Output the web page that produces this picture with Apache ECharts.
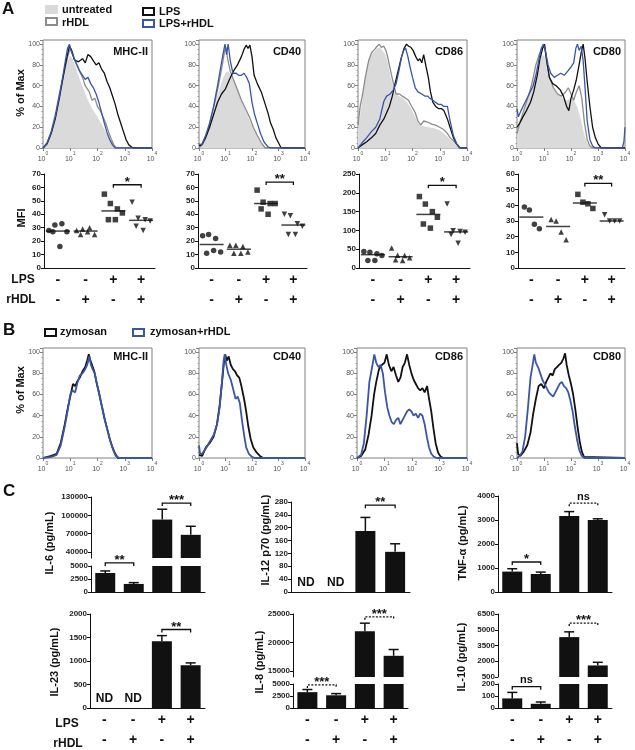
<!DOCTYPE html>
<html><head><meta charset="utf-8">
<script src="https://cdn.jsdelivr.net/npm/echarts@6/dist/echarts.min.js"></script>
<style>html,body{margin:0;padding:0;background:#fff}#c{width:635px;height:750px}</style>
</head><body><div id="c"></div>
<script>
const FONT = '"Liberation Sans", Arial, Helvetica, sans-serif';
const BLUE = '#3a55a5', GRAY = '#8c8c8c', FILL = '#dadada', BLACK = '#111';

// ---------- Panel A histograms: [log10(fluorescence), % of Max] ----------
const aMHC_untr = [[0,0],[0.15,4],[0.3,14],[0.45,30],[0.6,48],[0.7,62],[0.8,75],[0.9,84],[1.0,89],[1.08,86],[1.2,78],[1.35,66],[1.5,56],[1.65,46],[1.8,38],[1.95,32],[2.1,25],[2.25,18],[2.4,11],[2.55,5],[2.65,1],[2.75,0],[4,0]];
const aMHC_rhdl = [[0,0],[0.15,5],[0.3,16],[0.45,32],[0.6,52],[0.75,70],[0.85,82],[0.95,92],[1.02,96],[1.1,90],[1.2,82],[1.3,76],[1.45,68],[1.55,60],[1.7,54],[1.8,46],[1.9,48],[2.0,40],[2.1,36],[2.2,30],[2.3,24],[2.4,16],[2.5,9],[2.6,3],[2.7,0],[4,0]];
const aMHC_lps = [[0,0],[0.15,4],[0.3,14],[0.45,28],[0.6,48],[0.75,70],[0.88,88],[0.97,98],[1.05,94],[1.15,85],[1.3,83],[1.45,86],[1.55,82],[1.65,90],[1.75,88],[1.85,84],[1.95,80],[2.05,82],[2.15,76],[2.25,72],[2.35,64],[2.45,58],[2.55,50],[2.65,42],[2.75,32],[2.85,24],[2.95,16],[3.05,8],[3.15,3],[3.3,0],[4,0]];
const aMHC_lpsr = [[0,0],[0.15,5],[0.3,15],[0.45,30],[0.6,50],[0.72,68],[0.82,84],[0.9,96],[0.97,100],[1.05,92],[1.15,86],[1.25,80],[1.35,74],[1.45,70],[1.55,66],[1.65,68],[1.75,62],[1.85,58],[1.95,52],[2.05,44],[2.15,34],[2.25,24],[2.35,15],[2.45,8],[2.55,3],[2.65,0],[4,0]];

const aCD40_untr = [[0,0],[0.15,3],[0.3,12],[0.45,26],[0.6,40],[0.75,55],[0.9,67],[1.0,72],[1.1,74],[1.2,70],[1.35,62],[1.5,52],[1.65,42],[1.8,33],[1.95,24],[2.1,16],[2.25,9],[2.4,3],[2.5,0],[4,0]];
const aCD40_rhdl = [[0,0],[0.15,4],[0.3,13],[0.45,28],[0.6,44],[0.75,62],[0.88,80],[0.97,94],[1.02,97],[1.08,86],[1.18,74],[1.3,66],[1.45,56],[1.6,46],[1.75,38],[1.9,30],[2.05,20],[2.2,12],[2.35,5],[2.5,0],[4,0]];
const aCD40_lps = [[0,2],[0.1,3],[0.25,10],[0.4,20],[0.55,32],[0.7,44],[0.85,52],[1.0,57],[1.15,66],[1.3,74],[1.45,80],[1.6,88],[1.7,95],[1.78,99],[1.85,96],[1.92,99],[2.0,88],[2.08,70],[2.2,62],[2.35,54],[2.5,42],[2.6,34],[2.7,24],[2.8,18],[2.9,10],[3.0,5],[3.1,0],[4,0]];
const aCD40_lpsr = [[0,4],[0.1,3],[0.25,12],[0.4,24],[0.55,40],[0.7,60],[0.82,78],[0.92,92],[0.98,100],[1.04,90],[1.1,100],[1.18,84],[1.28,72],[1.4,72],[1.5,70],[1.6,70],[1.7,72],[1.8,68],[1.9,62],[2.0,44],[2.1,32],[2.2,24],[2.32,14],[2.45,6],[2.6,1],[2.7,0],[4,0]];

const aCD86_untr = [[0,18],[0.1,35],[0.2,55],[0.3,72],[0.4,84],[0.5,90],[0.6,93],[0.7,96],[0.8,97],[0.9,94],[1.0,90],[1.1,82],[1.2,68],[1.3,58],[1.4,52],[1.5,50],[1.65,48],[1.8,44],[1.95,38],[2.1,30],[2.25,22],[2.4,21],[2.6,20],[2.8,19],[3.0,17],[3.2,13],[3.4,8],[3.6,3],[3.75,0],[4,0]];
const aCD86_rhdl = [[0,22],[0.08,40],[0.17,52],[0.28,70],[0.39,84],[0.5,92],[0.61,95],[0.7,98],[0.78,100],[0.85,97],[0.95,98],[1.04,93],[1.12,84],[1.2,74],[1.3,62],[1.4,52],[1.52,52],[1.62,50],[1.75,48],[1.85,46],[1.97,40],[2.1,34],[2.2,26],[2.3,22],[2.41,26],[2.55,25],[2.7,23],[2.85,22],[3.0,20],[3.13,18],[3.25,15],[3.38,10],[3.5,7],[3.6,4],[3.72,0],[4,0]];
const aCD86_lps = [[0,0],[0.15,3],[0.32,6],[0.5,10],[0.65,14],[0.8,22],[0.95,28],[1.05,34],[1.15,40],[1.26,50],[1.36,62],[1.47,74],[1.58,86],[1.69,96],[1.78,100],[1.86,98],[1.94,97],[2.02,94],[2.12,88],[2.2,84],[2.27,86],[2.34,82],[2.41,90],[2.5,78],[2.58,68],[2.66,54],[2.75,44],[2.85,40],[2.95,38],[3.06,38],[3.15,36],[3.28,28],[3.4,18],[3.5,10],[3.62,4],[3.75,0],[4,0]];
const aCD86_lpsr = [[0,0],[0.15,5],[0.32,10],[0.5,16],[0.65,20],[0.8,28],[0.95,45],[1.05,50],[1.18,52],[1.3,56],[1.4,62],[1.5,74],[1.6,88],[1.68,94],[1.75,96],[1.83,88],[1.91,78],[2.0,68],[2.1,58],[2.2,54],[2.34,52],[2.45,50],[2.55,50],[2.63,48],[2.75,46],[2.84,44],[2.95,42],[3.06,42],[3.15,40],[3.28,40],[3.38,26],[3.5,12],[3.62,4],[3.75,0],[4,0]];

const aCD80_untr = [[0,12],[0.1,22],[0.25,34],[0.4,46],[0.55,60],[0.7,76],[0.82,86],[0.92,90],[1.02,88],[1.12,74],[1.25,62],[1.4,56],[1.55,52],[1.7,48],[1.85,46],[2.0,48],[2.12,46],[2.25,38],[2.38,26],[2.5,12],[2.62,4],[2.75,0],[4,0]];
const aCD80_rhdl = [[0,14],[0.1,24],[0.25,36],[0.4,48],[0.55,62],[0.7,80],[0.82,90],[0.92,96],[1.02,98],[1.1,82],[1.2,68],[1.35,58],[1.5,52],[1.65,50],[1.8,54],[1.9,58],[2.0,52],[2.1,46],[2.2,54],[2.3,60],[2.4,48],[2.5,24],[2.6,8],[2.7,2],[2.8,0],[4,0]];
const aCD80_lps = [[0,20],[0.1,24],[0.22,30],[0.35,36],[0.5,44],[0.62,54],[0.75,70],[0.85,86],[0.95,96],[1.02,100],[1.1,84],[1.2,68],[1.32,62],[1.45,60],[1.6,56],[1.72,50],[1.84,40],[1.92,36],[2.0,48],[2.1,56],[2.2,66],[2.3,80],[2.38,92],[2.45,100],[2.52,86],[2.6,64],[2.7,40],[2.8,20],[2.9,10],[3.0,4],[3.12,0],[4,0]];
const aCD80_lpsr = [[0,38],[0.05,30],[0.15,36],[0.3,44],[0.45,52],[0.6,60],[0.72,72],[0.82,86],[0.9,96],[0.98,100],[1.05,94],[1.15,80],[1.25,72],[1.38,68],[1.5,70],[1.62,72],[1.75,70],[1.88,74],[2.0,78],[2.1,82],[2.18,96],[2.24,100],[2.3,94],[2.38,98],[2.45,84],[2.52,58],[2.6,26],[2.7,8],[2.8,2],[2.9,0],[3.9,0],[3.96,6],[4,20]];

// ---------- Panel B histograms ----------
const bMHC_zym = [[0,0],[0.3,2],[0.5,4],[0.65,14],[0.8,32],[0.9,46],[1.0,58],[1.1,70],[1.18,68],[1.25,72],[1.35,76],[1.45,82],[1.55,86],[1.62,92],[1.68,98],[1.74,92],[1.8,88],[1.88,82],[1.96,72],[2.05,62],[2.15,50],[2.25,38],[2.35,28],[2.45,18],[2.55,10],[2.65,4],[2.75,0],[4,0]];
const bMHC_zymr = [[0,0],[0.3,1],[0.5,3],[0.65,12],[0.8,30],[0.9,44],[1.0,60],[1.08,64],[1.18,62],[1.25,70],[1.35,78],[1.45,80],[1.55,84],[1.62,88],[1.7,96],[1.76,88],[1.82,84],[1.9,80],[1.98,70],[2.07,60],[2.17,48],[2.27,36],[2.37,26],[2.47,16],[2.57,8],[2.67,2],[2.8,0],[4,0]];
const bCD40_zym = [[0,3],[0.12,2],[0.26,10],[0.4,14],[0.55,20],[0.68,32],[0.78,50],[0.87,72],[0.94,90],[0.99,98],[1.05,92],[1.12,96],[1.2,88],[1.28,84],[1.36,82],[1.44,78],[1.52,76],[1.6,68],[1.7,56],[1.78,44],[1.86,30],[1.95,18],[2.05,10],[2.18,5],[2.3,2],[2.42,0],[4,0]];
const bCD40_zymr = [[0,12],[0.04,4],[0.12,4],[0.28,10],[0.42,16],[0.56,22],[0.68,32],[0.78,48],[0.86,70],[0.93,92],[0.97,98],[1.03,88],[1.1,80],[1.2,74],[1.3,64],[1.38,56],[1.46,58],[1.54,52],[1.62,36],[1.7,22],[1.78,10],[1.88,4],[2.0,1],[2.1,0],[4,0]];
const bCD86_zym = [[0,0],[0.15,2],[0.3,8],[0.42,22],[0.53,40],[0.62,60],[0.7,72],[0.8,84],[0.9,88],[1.0,90],[1.08,98],[1.16,88],[1.25,82],[1.33,86],[1.42,78],[1.5,72],[1.58,76],[1.66,86],[1.74,90],[1.82,98],[1.9,88],[1.98,80],[2.06,74],[2.14,70],[2.22,66],[2.3,64],[2.38,66],[2.46,62],[2.55,68],[2.62,56],[2.7,44],[2.78,28],[2.86,14],[2.95,5],[3.05,1],[3.15,0],[4,0]];
const bCD86_zymr = [[0,0],[0.15,3],[0.25,14],[0.35,40],[0.45,72],[0.55,86],[0.63,98],[0.7,90],[0.78,86],[0.86,88],[0.94,80],[1.02,62],[1.1,48],[1.18,40],[1.26,34],[1.34,32],[1.42,36],[1.5,38],[1.58,32],[1.66,36],[1.74,40],[1.82,44],[1.9,46],[1.98,44],[2.06,40],[2.14,42],[2.22,38],[2.3,42],[2.38,40],[2.46,32],[2.54,20],[2.62,10],[2.7,4],[2.8,1],[2.9,0],[4,0]];
const bCD80_zym = [[0,14],[0.04,4],[0.12,2],[0.25,6],[0.38,12],[0.5,24],[0.6,42],[0.7,56],[0.8,68],[0.9,70],[1.0,66],[1.08,72],[1.16,76],[1.24,80],[1.32,78],[1.4,84],[1.48,86],[1.56,88],[1.64,90],[1.72,94],[1.78,99],[1.84,88],[1.92,78],[2.0,70],[2.08,60],[2.16,46],[2.24,30],[2.32,16],[2.4,6],[2.48,1],[2.55,0],[4,0]];
const bCD80_zymr = [[0,0],[0.1,2],[0.2,6],[0.3,20],[0.4,46],[0.5,76],[0.58,88],[0.64,98],[0.7,90],[0.78,86],[0.86,80],[0.94,74],[1.02,70],[1.1,66],[1.18,62],[1.26,60],[1.34,58],[1.42,62],[1.5,66],[1.58,70],[1.66,72],[1.74,68],[1.82,66],[1.9,62],[1.98,54],[2.06,44],[2.14,30],[2.22,18],[2.3,8],[2.4,2],[2.5,0],[4,0]];

// ---------- Panel A MFI dot plots (groups: -/-, -/+, +/-, +/+) ----------
const mfiMHC = [[28,32,33,27,27,16],[28,29,30,25,25,27],[55,48,44,41,36,36],[49,37,36,35,31,28]];
const mfiCD40 = [[24,25,22,12,11,13],[17,17,16,12,11,11],[58,49,48,48,44,40],[40,39,33,31,25,25]];
const mfiCD86 = [[44,42,38,33,20,20],[53,34,33,27,22,20],[190,170,150,135,117,106],[170,99,97,95,89,66]];
const mfiCD80 = [[39,37,28,25],[31,30,23,18],[47,42,41,38],[34,30,30,30]];

// ---------- Panel C cytokines (mean, upper SEM; ND = not detected) ----------
const il6Mean = [3650,1550,93000,68000], il6Err = [400,250,17000,14000];
const il12Mean = [0,0,190,125], il12Err = [0,0,42,25], il12ND = [true,true,false,false];
const tnfMean = [850,750,3170,3000], tnfErr = [120,80,180,50];
const il23Mean = [0,0,1420,910], il23Err = [0,0,120,50], il23ND = [true,true,false,false];
const il8Mean = [3300,2650,22000,17700], il8Err = [550,350,1400,1100];
const il10Mean = [80,35,4300,1600], il10Err = [50,15,500,300];
const noND = [false,false,false,false];

const LPS = ['-','-','+','+'];
const RHDL = ['-','+','-','+'];
const CATS = ['g1','g2','g3','g4'];

// ---------- builders ----------
const grids = [], xAxis = [], yAxis = [], series = [], graphic = [];

function text(x, y, str, o) {
  o = o || {};
  graphic.push({type:'text', x:x, y:y, rotation:o.rot || 0, z:20,
    style:{text:str, fill:o.color || BLACK, font:(o.weight || 'bold') + ' ' + (o.size || 11) + 'px ' + FONT,
      align:o.align || 'left', verticalAlign:o.va || 'middle'}});
}
function box(x, y, w, h, fill, stroke) {
  graphic.push({type:'rect', x:x, y:y, z:20, shape:{x:0, y:0, width:w, height:h},
    style:{fill:fill || 'none', stroke:stroke || 'none', lineWidth:2}});
}

function histogram(left, top, width, height, title, curves, titleDy) {
  const gi = grids.length;
  grids.push({left:left, top:top, width:width, height:height, show:true, borderColor:'#808080', borderWidth:1});
  xAxis.push({gridIndex:gi, type:'value', min:0, max:4, interval:1,
    axisLine:{show:false}, splitLine:{show:false},
    axisTick:{show:true, length:3, lineStyle:{color:'#808080'}},
    axisLabel:{margin:3, formatter:function(v){return '{b|10}{s|' + v + '}';},
      rich:{b:{fontSize:7, color:'#555', lineHeight:12, verticalAlign:'bottom', fontFamily:FONT},
            s:{fontSize:5, color:'#555', lineHeight:12, verticalAlign:'top', fontFamily:FONT}}}});
  yAxis.push({gridIndex:gi, type:'value', min:0, max:104, interval:20,
    axisLine:{show:false}, splitLine:{show:false},
    axisTick:{show:true, length:3, lineStyle:{color:'#808080'}},
    minorTick:{show:true, splitNumber:4, length:1.5, lineStyle:{color:'#999'}},
    axisLabel:{fontSize:7, color:'#555', margin:3, formatter:function(v){return v % 20 === 0 ? String(v) : '';}}});
  curves.forEach(function(c, k){
    const s = {type:'line', xAxisIndex:gi, yAxisIndex:gi, data:c.data, showSymbol:false, symbol:'none',
      z:2 + k, lineStyle:{color:c.color, width:c.width || 1.3}};
    if (c.fill) { s.areaStyle = {color:c.fill, opacity:1}; s.lineStyle = {width:0, color:c.fill}; }
    series.push(s);
  });
  text(left + width - 4, top + (titleDy || 12), title, {align:'right', size:11});
}

function median(arr) {
  const s = arr.slice().sort(function(a,b){return a-b;});
  const n = s.length;
  return n % 2 ? s[(n-1)/2] : (s[n/2-1] + s[n/2]) / 2;
}

const pmLabel = {show:true, margin:2, interval:0, fontSize:14, fontWeight:'bold', color:BLACK, lineHeight:20,
  formatter:function(v, i){return LPS[i] + '\n' + RHDL[i];}};

function bracketSeries(gi, list) {
  return {type:'custom', xAxisIndex:gi, yAxisIndex:gi, clip:false, z:8,
    encode:{x:0, y:1},
    data:list.map(function(b){return [b.a, b.y, b.b];}),
    renderItem:function(params, api){
      const b = list[params.dataIndex];
      const p1 = api.coord([b.a, b.y]), p2 = api.coord([b.b, b.y]);
      const leg = 3;
      const star = b.t.indexOf('*') >= 0;
      return {type:'group', children:[
        {type:'polyline', shape:{points:[[p1[0], p1[1] + leg], [p1[0], p1[1]], [p2[0], p2[1]], [p2[0], p2[1] + leg]]},
          style:{stroke:BLACK, lineWidth:1.3, fill:null, lineDash:b.dash ? [2, 1.5] : null}},
        {type:'text', x:(p1[0] + p2[0]) / 2, y:p1[1] + (star ? 4 : -1),
          style:{text:b.t, font:'bold ' + (star ? 13 : 11) + 'px ' + FONT, fill:BLACK, align:'center', verticalAlign:'bottom'}}
      ]};
    }};
}

const SYM = ['circle','triangle','rect','triangle'];
const JIT = {6:[-9,-3,4,9,-5,2], 4:[-7,-2,3,8]};

function dotPlot(left, top, width, height, ymax, yint, groups, bracket) {
  const gi = grids.length;
  grids.push({left:left, top:top, width:width, height:height});
  xAxis.push({gridIndex:gi, type:'category', data:CATS, boundaryGap:true,
    axisLine:{show:true, lineStyle:{color:BLACK, width:1}}, axisTick:{show:false},
    axisLabel:pmLabel});
  yAxis.push({gridIndex:gi, type:'value', min:0, max:ymax, interval:yint, splitLine:{show:false},
    axisLine:{show:true, lineStyle:{color:BLACK, width:1}},
    axisTick:{show:true, length:3, lineStyle:{color:BLACK}},
    axisLabel:{fontSize:8, fontWeight:'bold', color:'#222', margin:3}});
  groups.forEach(function(vals, g){
    series.push({type:'scatter', xAxisIndex:gi, yAxisIndex:gi, symbol:SYM[g], symbolRotate:g === 3 ? 180 : 0,
      symbolSize:5.5, itemStyle:{color:BLACK}, z:4,
      data:vals.map(function(v, k){return {value:[g, v], symbolOffset:[JIT[vals.length][k], 0]};})});
    series.push({type:'scatter', xAxisIndex:gi, yAxisIndex:gi, symbol:'rect', symbolSize:[24, 1.5],
      itemStyle:{color:BLACK}, z:5, data:[[g, median(vals)]]});
  });
  series.push(bracketSeries(gi, [bracket]));
}

function barPanel(left, width, segs, means, errs, nd, brackets, showLabels) {
  const gis = [];
  segs.forEach(function(s, si){
    const gi = grids.length; gis.push(gi);
    const isBottom = si === segs.length - 1;
    grids.push({left:left, top:s.top, width:width, height:s.bottom - s.top});
    xAxis.push({gridIndex:gi, type:'category', data:CATS, boundaryGap:true,
      axisLine:{show:isBottom, lineStyle:{color:BLACK, width:1}}, axisTick:{show:false},
      axisLabel:(isBottom && showLabels) ? pmLabel : {show:false}});
    yAxis.push({gridIndex:gi, type:'value', min:s.min, max:s.max, splitLine:{show:false},
      axisLine:{show:true, lineStyle:{color:BLACK, width:1}},
      axisTick:{show:true, length:3, customValues:s.ticks, lineStyle:{color:BLACK}},
      axisLabel:{customValues:s.ticks, fontSize:8, fontWeight:'bold', color:'#222', margin:3,
        formatter:function(v){return String(v);}}});
    series.push({type:'bar', xAxisIndex:gi, yAxisIndex:gi, barWidth:20, itemStyle:{color:BLACK}, z:2,
      data:means.map(function(v, i){return (nd[i] || v <= s.min) ? null : Math.min(v, s.max);})});
    const errData = [];
    means.forEach(function(v, i){
      if (!nd[i] && v > s.min && v <= s.max) errData.push([i, v, errs[i]]);
    });
    series.push({type:'custom', xAxisIndex:gi, yAxisIndex:gi, clip:false, z:3, encode:{x:0, y:1},
      data:errData,
      renderItem:function(params, api){
        const p0 = api.coord([api.value(0), api.value(1)]);
        const p1 = api.coord([api.value(0), api.value(1) + api.value(2)]);
        return {type:'group', children:[
          {type:'line', shape:{x1:p0[0], y1:p0[1], x2:p1[0], y2:p1[1]}, style:{stroke:BLACK, lineWidth:1.5}},
          {type:'line', shape:{x1:p1[0] - 5, y1:p1[1], x2:p1[0] + 5, y2:p1[1]}, style:{stroke:BLACK, lineWidth:1.5}}
        ]};
      }});
    if (isBottom) {
      const ndData = [];
      nd.forEach(function(f, i){ if (f) ndData.push([i, 0]); });
      if (ndData.length) series.push({type:'custom', xAxisIndex:gi, yAxisIndex:gi, clip:false, z:3, encode:{x:0, y:1},
        data:ndData,
        renderItem:function(params, api){
          const p = api.coord([api.value(0), api.value(1)]);
          return {type:'text', x:p[0], y:p[1] - 3, style:{text:'ND', font:'bold 12px ' + FONT, fill:BLACK, align:'center', verticalAlign:'bottom'}};
        }});
    }
  });
  segs.forEach(function(s, si){
    const list = brackets.filter(function(b){return b.seg === si;});
    if (list.length) series.push(bracketSeries(gis[si], list));
  });
}

// ---------- Panel A ----------
histogram(43, 40, 109, 108, 'MHC-II', [
  {data:aMHC_untr, fill:FILL}, {data:aMHC_rhdl, color:GRAY}, {data:aMHC_lps, color:BLACK}, {data:aMHC_lpsr, color:BLUE}]);
histogram(199, 40, 106, 108, 'CD40', [
  {data:aCD40_untr, fill:FILL}, {data:aCD40_rhdl, color:GRAY}, {data:aCD40_lps, color:BLACK}, {data:aCD40_lpsr, color:BLUE}]);
histogram(358, 40, 109, 108, 'CD86', [
  {data:aCD86_untr, fill:FILL}, {data:aCD86_rhdl, color:GRAY}, {data:aCD86_lps, color:BLACK}, {data:aCD86_lpsr, color:BLUE}]);
histogram(517, 40, 108, 108, 'CD80', [
  {data:aCD80_untr, fill:FILL}, {data:aCD80_rhdl, color:GRAY}, {data:aCD80_lps, color:BLACK}, {data:aCD80_lpsr, color:BLUE}]);

dotPlot(44, 174, 111, 94, 70, 10, mfiMHC, {a:2, b:3, y:62, t:'*'});
dotPlot(198, 174, 109, 94, 70, 10, mfiCD40, {a:2, b:3, y:64, t:'**'});
dotPlot(359, 174, 111, 94, 250, 50, mfiCD86, {a:2, b:3, y:220, t:'*'});
dotPlot(518, 174, 107, 94, 60, 10, mfiCD80, {a:2, b:3, y:54, t:'**'});

// ---------- Panel B ----------
histogram(43, 348, 109, 110, 'MHC-II', [{data:bMHC_zym, color:BLACK, width:1.8}, {data:bMHC_zymr, color:BLUE, width:1.8}], 9);
histogram(199, 348, 106, 110, 'CD40', [{data:bCD40_zym, color:BLACK, width:1.8}, {data:bCD40_zymr, color:BLUE, width:1.8}], 9);
histogram(357, 348, 110, 110, 'CD86', [{data:bCD86_zym, color:BLACK, width:1.8}, {data:bCD86_zymr, color:BLUE, width:1.8}], 9);
histogram(517, 348, 108, 110, 'CD80', [{data:bCD80_zym, color:BLACK, width:1.8}, {data:bCD80_zymr, color:BLUE, width:1.8}], 9);

// ---------- Panel C ----------
barPanel(91, 114, [
  {top:497, bottom:558, min:30000, max:130000, ticks:[40000,70000,100000,130000]},
  {top:566, bottom:592, min:0, max:5000, ticks:[0,2500,5000]}],
  il6Mean, il6Err, noND,
  [{a:0, b:1, y:5600, t:'**', seg:1}, {a:2, b:3, y:120000, t:'***', seg:0}], false);
barPanel(291, 119, [{top:502, bottom:592, min:0, max:280, ticks:[0,40,80,120,160,200,240,280]}],
  il12Mean, il12Err, il12ND, [{a:2, b:3, y:270, t:'**', seg:0}], false);
barPanel(498, 114, [{top:496, bottom:592, min:0, max:4000, ticks:[0,1000,2000,3000,4000]}],
  tnfMean, tnfErr, noND,
  [{a:0, b:1, y:1250, t:'*', seg:0}, {a:2, b:3, y:3700, t:'ns', seg:0, dash:true}], false);

barPanel(90, 115, [{top:614, bottom:712, min:0, max:2000, ticks:[0,500,1000,1500,2000]}],
  il23Mean, il23Err, il23ND, [{a:2, b:3, y:1670, t:'**', seg:0}], true);
barPanel(293, 115, [
  {top:614, bottom:677, min:14000, max:25000, ticks:[15000,20000,25000]},
  {top:684, bottom:712, min:0, max:5000, ticks:[0,2500,5000]}],
  il8Mean, il8Err, noND,
  [{a:0, b:1, y:4800, t:'***', seg:1, dash:true}, {a:2, b:3, y:24500, t:'***', seg:0, dash:true}], true);
barPanel(498, 114, [
  {top:614, bottom:677, min:500, max:6500, ticks:[500,2000,3500,5000,6500]},
  {top:684, bottom:712, min:0, max:200, ticks:[0,100,200]}],
  il10Mean, il10Err, noND,
  [{a:0, b:1, y:178, t:'ns', seg:1}, {a:2, b:3, y:5640, t:'***', seg:0, dash:true}], true);

// ---------- texts & legends ----------
text(2, 9, 'A', {size:17});
text(3, 330, 'B', {size:17});
text(3, 491, 'C', {size:17});

box(45, 5, 13, 9, FILL, null);
text(62, 10, 'untreated');
box(46, 18, 11, 7, null, GRAY);
text(62, 23, 'rHDL');
box(143, 8, 11, 7, null, BLACK);
text(159, 12, 'LPS');
box(143, 20, 11, 7, null, BLUE);
text(159, 24, 'LPS+rHDL');

box(45, 329, 11, 7, null, BLACK);
text(60, 332, 'zymosan');
box(133, 329, 11, 7, null, BLUE);
text(150, 332, 'zymosan+rHDL');

text(21, 93, '% of Max', {rot:Math.PI/2, align:'center', size:11});
text(21, 390, '% of Max', {rot:Math.PI/2, align:'center', size:11});
text(22, 218, 'MFI', {rot:Math.PI/2, align:'center', size:11});

text(23, 280, 'LPS', {align:'center', size:12});
text(21, 300, 'rHDL', {align:'center', size:12});
text(67, 724, 'LPS', {align:'center', size:12});
text(68, 744, 'rHDL', {align:'center', size:12});

text(50, 543, 'IL-6 (pg/mL)', {rot:Math.PI/2, align:'center', size:11});
text(266, 540, 'IL-12 p70 (pg/mL)', {rot:Math.PI/2, align:'center', size:11});
text(463, 543, 'TNF-α (pg/mL)', {rot:Math.PI/2, align:'center', size:11});
text(55, 662, 'IL-23 (pg/mL)', {rot:Math.PI/2, align:'center', size:11});
text(260, 662, 'IL-8 (pg/mL)', {rot:Math.PI/2, align:'center', size:11});
text(462, 657, 'IL-10 (pg/mL)', {rot:Math.PI/2, align:'center', size:11});

const chart = echarts.init(document.getElementById('c'), null, {renderer:'canvas', width:635, height:750});
chart.setOption({
  animation:false,
  backgroundColor:'#fff',
  textStyle:{fontFamily:FONT},
  grid:grids, xAxis:xAxis, yAxis:yAxis, series:series, graphic:graphic
});
</script></body></html>
